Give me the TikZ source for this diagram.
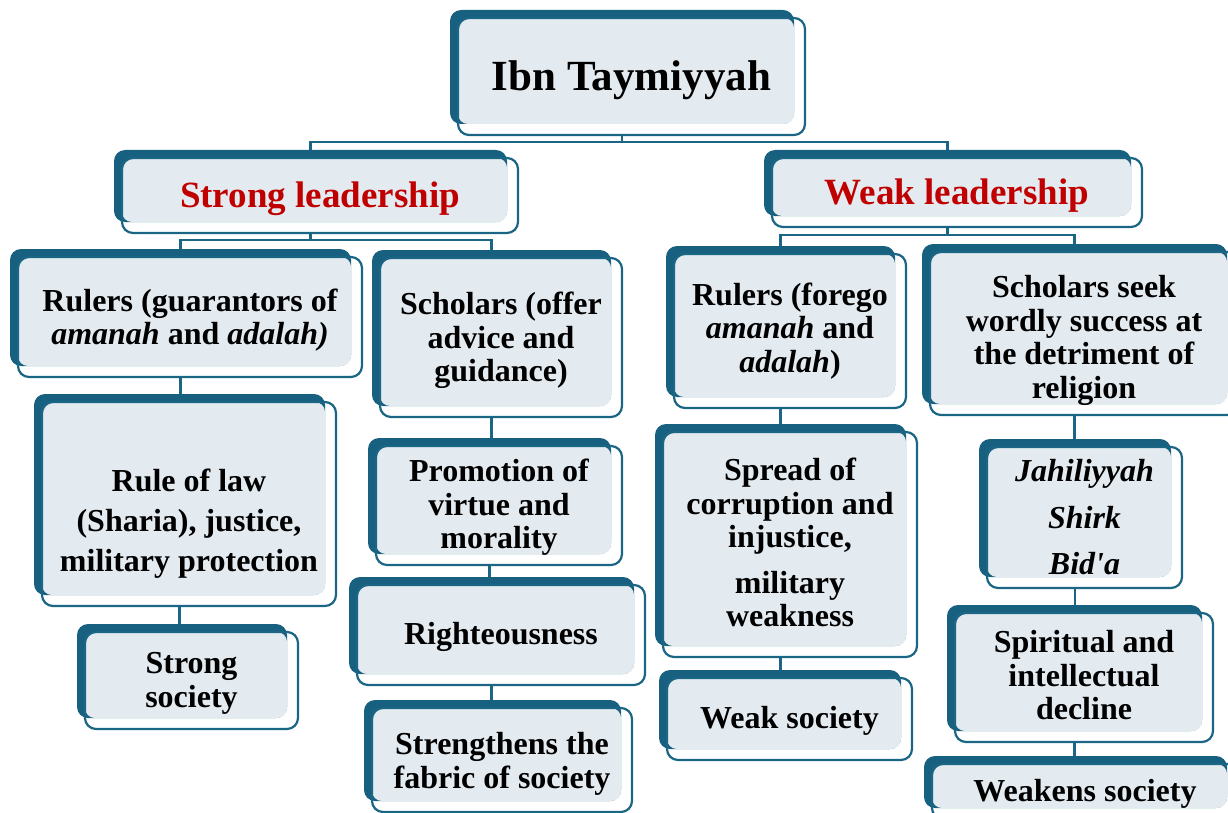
\documentclass[tikz,border=0pt]{standalone}
\usepackage{fontspec}
\setmainfont{Liberation Serif}

\definecolor{boxblue}{HTML}{18607F}
\definecolor{edgeblue}{HTML}{1B6585}
\definecolor{lightfill}{HTML}{E4EBF0}
\definecolor{leadred}{HTML}{C00000}

\newcommand\boxfont{\fontsize{32}{33.5}\selectfont\bfseries}
\newcommand\titlefont{\fontsize{43}{48}\selectfont\bfseries}
\newcommand\leadfont{\fontsize{37}{42}\selectfont\bfseries}

% #1 text style, #2 name, #3-#6 frame corners (x0,y0,x1,y1), #7 text
\newcommand\mkbox[7][]{%
  \node[backbox, minimum width={(#5-#3-3)*1pt}, minimum height={(#6-#4-3)*1pt}]
    (#2-back) at ({(#3+#5)/2-9.5},{(#4+#6)/2-9.5}) {};
  \fill[lightfill, rounded corners=10pt] (#3,#4) rectangle ({#5-11},{#6-11});
  \node[frontbox, minimum width={(#5-#3)*1pt}, minimum height={(#6-#4)*1pt}]
    (#2) at ({(#3+#5)/2},{(#4+#6)/2}) {};
  \node[boxtext, #1] (#2-text) at (#2.center) {#7};
}

\begin{document}
\begin{tikzpicture}[x=1pt, y=-1pt,
  backbox/.style={rectangle, rounded corners=11pt, fill=boxblue, inner sep=0pt, outer sep=0pt},
  frontbox/.style={rectangle, rounded corners=11pt, draw=edgeblue, line width=2.2pt,
    inner sep=0pt, outer sep=0pt},
  boxtext/.style={inner sep=0pt, align=center, font=\boxfont},
  conn/.style={draw=edgeblue, line width=2.3pt}]

\useasboundingbox (0,0) rectangle (1228,813);
\fill[white] (0,0) rectangle (1228,813);

% top level
\mkbox[font=\titlefont, yshift=-4pt]{ibn}{458}{18}{805}{135}{Ibn Taymiyyah}
\mkbox[font=\leadfont, text=leadred, yshift=-3pt]{strong}{122}{158}{518}{233}{Strong leadership}
\mkbox[font=\leadfont, text=leadred, yshift=-3pt]{weak}{772}{158}{1142}{227}{Weak leadership}

% strong leadership branch
\mkbox[yshift=-3pt]{rs}{18}{257}{362}{377}{Rulers (guarantors of\\\textit{amanah} and \textit{adalah)}}
\mkbox[yshift=-3pt]{ss}{380}{258}{622}{417}{Scholars (offer\\advice and\\guidance)}
\mkbox[font={\fontsize{32}{40}\selectfont\bfseries}, yshift=-3pt]{law}{42}{402}{336}{606}%
  {\rule{0pt}{55pt}Rule of law\\(Sharia), justice,\\military protection}
\mkbox[yshift=-3pt]{sts}{85}{632}{298}{729}{Strong\\society}
\mkbox[yshift=-2pt]{prom}{376}{446}{622}{565}{Promotion of\\virtue and\\morality}
\mkbox[yshift=-2pt]{rightn}{357}{585}{645}{685}{Righteousness}
\mkbox[yshift=-4pt]{fab}{372}{708}{632}{812}{Strengthens the\\fabric of society}

% weak leadership branch
\mkbox{rw}{674}{254}{906}{408}{Rulers (forego\\\textit{amanah} and\\\textit{adalah})}
\mkbox[yshift=-7pt]{sw}{930}{252}{1238}{415}{Scholars seek\\wordly success at\\the detriment of\\religion}
\mkbox[yshift=2pt]{spread}{663}{432}{917}{657}{Spread of\\corruption and\\injustice,\\[12pt]military\\weakness}
\mkbox[yshift=-2pt]{ws}{667}{678}{912}{760}{Weak society}
\mkbox[font={\fontsize{32}{46.5}\selectfont\bfseries}]{jah}{987}{447}{1182}{588}%
  {\textit{Jahiliyyah}\\\textit{Shirk}\\\textit{Bid\textquotesingle a}}
\mkbox[yshift=2pt]{spirit}{955}{613}{1213}{742}{Spiritual and\\intellectual\\decline}
\mkbox[yshift=-2pt]{wks}{932}{764}{1238}{819}{Weakens society}

% bus lines
\coordinate (bus0) at (0,142);
\coordinate (bus1) at (0,240);
\coordinate (bus2) at (0,235);

\draw[conn] (ibn-back.south |- ibn.south) -- (ibn-back.south |- bus0);
\draw[conn] (strong-back.north) |- (ibn-back.south |- bus0) -| (weak-back.north);

\draw[conn] (strong-back.south |- strong.south) -- (strong-back.south |- bus1);
\draw[conn] (rs-back.north) |- (strong-back.south |- bus1) -| (ss-back.north);

\draw[conn] (weak-back.south |- weak.south) -- (weak-back.south |- bus2);
\draw[conn] (rw-back.north) |- (weak-back.south |- bus2) -| (sw-back.north);

% chains
\draw[conn] (rs-back.south |- rs.south) -- (rs-back.south |- law-back.north);
\draw[conn] (law-back.south |- law.south) -- (law-back.south |- sts-back.north);
\draw[conn] (ss-back.south |- ss.south) -- (ss-back.south |- prom-back.north);
\draw[conn] (prom-back.south |- prom.south) -- (prom-back.south |- rightn-back.north);
\draw[conn] (rightn-back.south |- rightn.south) -- (rightn-back.south |- fab-back.north);
\draw[conn] (rw-back.south |- rw.south) -- (rw-back.south |- spread-back.north);
\draw[conn] (spread-back.south |- spread.south) -- (spread-back.south |- ws-back.north);
\draw[conn] (sw-back.south |- sw.south) -- (sw-back.south |- jah-back.north);
\draw[conn] (jah-back.south |- jah.south) -- (jah-back.south |- spirit-back.north);
\draw[conn] (spirit-back.south |- spirit.south) -- (spirit-back.south |- wks-back.north);

\end{tikzpicture}
\end{document}
